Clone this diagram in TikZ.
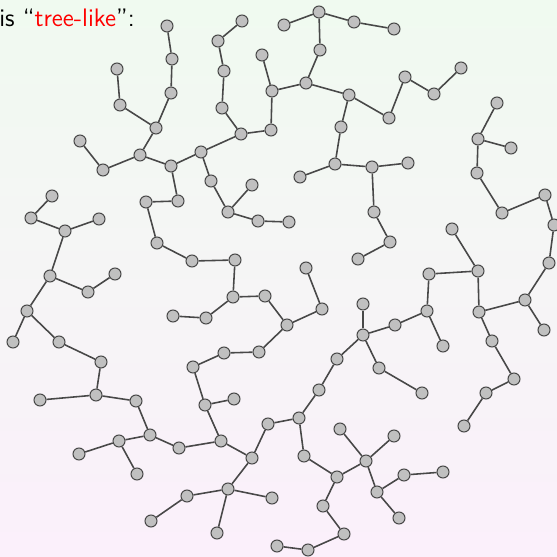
\documentclass[tikz,border=0pt]{standalone}
\usepackage{xcolor}
\usepackage{tikz}
\usetikzlibrary{backgrounds}
\definecolor{mintbg}{RGB}{240,250,240}
\definecolor{pinkbg}{RGB}{251,240,251}
\definecolor{vertexgray}{RGB}{192,192,192}
\definecolor{linegray}{RGB}{72,72,72}

\begin{document}
\begin{tikzpicture}[x=0.02cm, y=-0.02cm,
    vtx/.style={circle, draw=linegray, fill=vertexgray, line width=0.6pt, minimum size=0.24cm, inner sep=0pt},
    treeedge/.style={draw=linegray, line width=0.9pt}]
  \shade[top color=mintbg, bottom color=pinkbg] (0,0) rectangle (557,557);
  \useasboundingbox (0,0) rectangle (557,557);
  \node[anchor=base west, inner sep=0pt, font=\sffamily\fontsize{14.4}{17}\selectfont] (title) at (-1,27)
    {is ``\textcolor{red}{tree-like}'':};
  % vertices
  \foreach \n/\x/\y in {a1/167/26, a2/172/59, a3/171/93, a4/117/69, a5/120/105, a6/156/128,
      a7/80/141, a8/103/170, a9/140/155, a10/171/166, a11/178/201, a12/146/202, a13/157/243,
      a14/192/261, a15/235/260, a16/233/297, a17/265/296, a18/206/318, a19/173/316, a20/287/325,
      a21/322/309, a22/306/268, a23/259/352, a24/224/353, a25/193/367, a26/205/405, a27/234/399,
      a28/221/441, a29/179/448, a30/150/435, a31/136/401, a32/96/395, a33/40/400, a34/101/362,
      a35/59/342, a36/27/311, a37/13/342, a38/50/276, a39/88/292, a40/115/274, a41/65/231,
      a42/99/219, a43/31/218, a44/52/196, a45/119/441, a46/79/454, a47/137/474, a48/252/458,
      a49/228/489, a50/187/496, a51/151/521, a52/272/498, a53/217/533, a54/268/424, a55/299/418,
      a56/319/390, a57/337/359, a58/363/335, a59/363/304, a60/395/325, a61/427/311, a62/443/346,
      a63/429/274, a64/478/271, a65/452/229, a66/479/312, a67/525/300, a68/544/330, a69/549/263,
      a70/554/225, a71/545/195, a72/502/213, a73/477/173, a74/478/139, a75/497/103, a76/511/148,
      a77/492/341, a78/514/379, a79/486/393, a80/464/426, a81/379/368, a82/422/393, a83/304/456,
      a84/337/477, a85/366/461, a86/340/429, a87/394/436, a88/377/492, a89/404/475, a90/443/472,
      a91/399/518, a92/323/506, a93/344/534, a94/308/550, a95/277/546,
      b1/201/152, b2/211/181, b3/228/212, b4/252/185, b5/258/221, b6/289/222, b7/241/134,
      b8/222/108, b9/224/71, b10/218/41, b11/242/21, b12/271/130, b13/272/91, b14/262/55,
      b15/306/83, b16/320/50, b17/319/12, b18/284/25, b19/354/22, b20/394/29, b21/349/95,
      b22/389/118, b23/405/77, b24/434/94, b25/461/68, b26/341/127, b27/335/164, b28/300/177,
      b29/372/167, b30/408/163, b31/374/212, b32/390/242, b33/358/259}
    \node[vtx] (\n) at (\x,\y) {};
  % edges
  \foreach \p/\q in {a1/a2, a2/a3, a3/a6, a4/a5, a5/a6, a6/a9, a7/a8, a8/a9, a9/a10, a10/a11,
      a11/a12, a12/a13, a13/a14, a14/a15, a15/a16, a16/a17, a16/a18, a18/a19, a17/a20, a20/a21,
      a21/a22, a20/a23, a23/a24, a24/a25, a25/a26, a26/a27, a26/a28, a28/a29, a28/a48, a29/a30,
      a30/a31, a30/a45, a45/a46, a45/a47, a31/a32, a32/a33, a32/a34, a34/a35, a35/a36, a36/a37,
      a36/a38, a38/a39, a39/a40, a38/a41, a41/a42, a41/a43, a43/a44, a48/a49, a49/a50, a50/a51,
      a49/a52, a49/a53, a48/a54, a54/a55, a55/a56, a56/a57, a57/a58, a58/a59, a58/a60, a58/a81,
      a81/a82, a60/a61, a61/a62, a61/a63, a63/a64, a64/a65, a64/a66, a66/a67, a67/a68, a67/a69,
      a69/a70, a70/a71, a71/a72, a72/a73, a73/a74, a74/a75, a74/a76, a66/a77, a77/a78, a78/a79,
      a79/a80, a55/a83, a83/a84, a84/a85, a85/a86, a85/a87, a85/a88, a88/a89, a89/a90, a88/a91,
      a84/a92, a92/a93, a93/a94, a94/a95,
      a10/b1, b1/b2, b2/b3, b3/b4, b3/b5, b5/b6, b1/b7, b7/b8, b8/b9, b9/b10, b10/b11, b7/b12,
      b12/b13, b13/b14, b13/b15, b15/b16, b16/b17, b17/b18, b17/b19, b19/b20, b15/b21, b21/b22,
      b22/b23, b23/b24, b24/b25, b21/b26, b26/b27, b27/b28, b27/b29, b29/b30, b29/b31, b31/b32,
      b32/b33}
    \draw[treeedge] (\p) -- (\q);
\end{tikzpicture}
\end{document}
